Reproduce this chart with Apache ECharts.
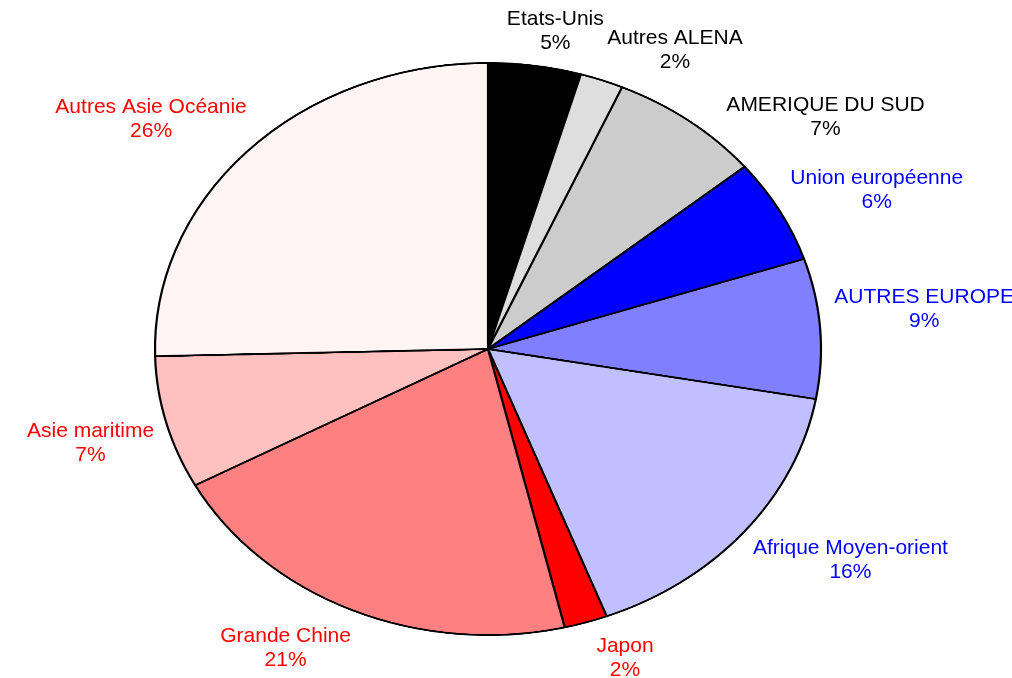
<!DOCTYPE html>
<html>
<head>
<meta charset="utf-8">
<script src="https://cdn.jsdelivr.net/npm/echarts@6/dist/echarts.min.js"></script>
<style>
html, body { margin: 0; padding: 0; background: #fff; }
#wrap { position: relative; width: 1012px; height: 678px; overflow: hidden; }
#pie, #labels { position: absolute; left: 0; top: 0; width: 1012px; height: 678px; }
/* the original pie is an ellipse: squash the circle vertically (taller box so nothing is clipped) */
#pie { height: 760px; transform-origin: 488px 349px; transform: scaleY(0.859); }
#labels { pointer-events: none; }
</style>
</head>
<body>
<div id="wrap"><div id="pie"></div><div id="labels"></div></div>
<script>
var categories = ['Etats-Unis', 'Autres ALENA', 'AMERIQUE DU SUD', 'Union européenne', 'AUTRES EUROPE',
    'Afrique Moyen-orient', 'Japon', 'Grande Chine', 'Asie maritime', 'Autres Asie Océanie'];
var shares = [4.5, 2.1, 7.4, 5.9, 7.9, 16.4, 2.1, 20.8, 7.5, 25.4];
var percentLabels = [5, 2, 7, 6, 9, 16, 2, 21, 7, 26];
var sliceColors = ['#000000', '#dedede', '#cccccc', '#0000ff', '#8080ff',
    '#c0c0ff', '#ff0000', '#ff8080', '#ffc0c0', '#fff5f5'];
var labelColors = ['#000000', '#000000', '#000000', '#0000ff', '#0000ff',
    '#0000ff', '#ff0000', '#ff0000', '#ff0000', '#ff0000'];
// small angular nudges (degrees) so the labels sit where the original put them
var labelShift = [-5, 0, 6, -1, -3, 1, -1, -1, -2, 2];

var cx = 488, cy = 349, rx = 333, ry = 286;

var total = 0;
for (var i = 0; i < shares.length; i++) total += shares[i];

function midAngle(k) {
    var s = 0;
    for (var j = 0; j < k; j++) s += shares[j];
    return (s + shares[k] / 2) / total * 360;
}

// slices
var pieData = [];
for (i = 0; i < categories.length; i++) {
    pieData.push({ name: categories[i], value: shares[i], itemStyle: { color: sliceColors[i] } });
}
var pieChart = echarts.init(document.getElementById('pie'), null, { devicePixelRatio: 2 });
pieChart.setOption({
    animation: false,
    series: [{
        type: 'pie',
        center: [cx, cy],
        radius: rx,
        startAngle: 90,
        clockwise: true,
        silent: true,
        label: { show: false },
        labelLine: { show: false },
        itemStyle: { borderColor: '#000', borderWidth: 2.2 },
        data: pieData
    }]
});

// labels (same pie, invisible slices, unscaled text)
var labelData = [];
for (i = 0; i < categories.length; i++) {
    labelData.push({ name: categories[i], value: shares[i], label: { color: labelColors[i] } });
}
var labelChart = echarts.init(document.getElementById('labels'));
labelChart.setOption({
    animation: false,
    series: [{
        type: 'pie',
        center: [cx, cy],
        radius: rx,
        startAngle: 90,
        clockwise: true,
        silent: true,
        avoidLabelOverlap: false,
        itemStyle: { color: 'rgba(0,0,0,0)', borderWidth: 0 },
        labelLine: { show: false },
        label: {
            show: true,
            position: 'outside',
            fontFamily: 'Liberation Sans, Arial, sans-serif',
            fontSize: 21,
            lineHeight: 24,
            formatter: function (p) {
                return categories[p.dataIndex] + '\n' + percentLabels[p.dataIndex] + '%';
            }
        },
        labelLayout: function (p) {
            var t = (midAngle(p.dataIndex) + labelShift[p.dataIndex]) * Math.PI / 180;
            var c = Math.cos(t);
            var ax = cx + (rx + 16) * Math.sin(t);
            var ay = cy - (ry + (c < 0 ? 39 : 32)) * c;
            var w = p.labelRect.width;
            var right = Math.sin(t) >= 0;
            return { x: ax + (right ? w / 2 : -w / 2), y: ay, align: 'center', verticalAlign: 'middle' };
        },
        data: labelData
    }]
});
</script>
</body>
</html>
